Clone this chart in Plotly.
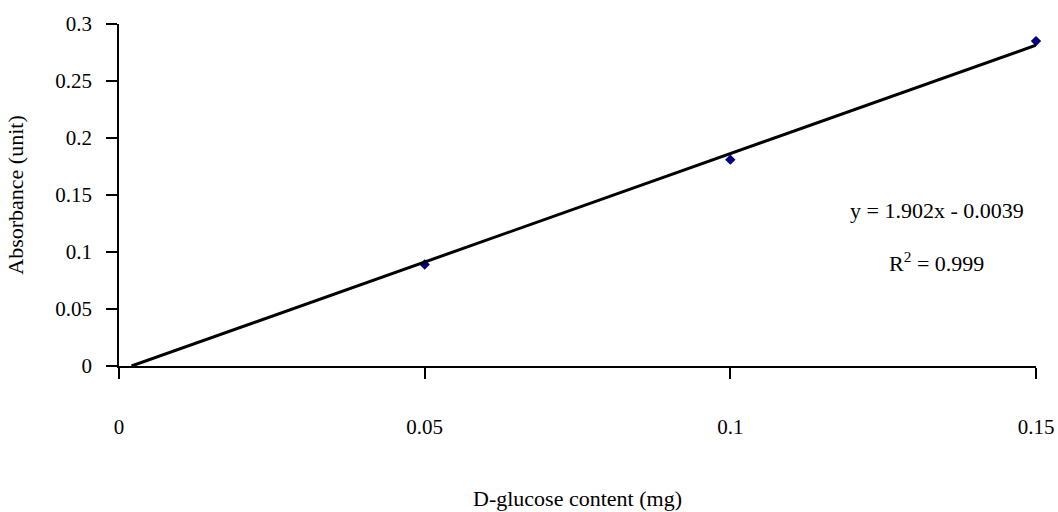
import plotly.graph_objects as go

# Data
glucose_mg = [0.05, 0.10, 0.15]
absorbance = [0.089, 0.181, 0.285]

# Linear trendline coefficients shown on the chart
slope = 1.902
intercept = -0.0039
r_squared = 0.999

x_ticks = [0, 0.05, 0.10, 0.15]
x_tick_labels = ["0", "0.05", "0.1", "0.15"]
y_ticks = [0, 0.05, 0.10, 0.15, 0.20, 0.25, 0.30]
y_tick_labels = ["0", "0.05", "0.1", "0.15", "0.2", "0.25", "0.3"]

# Trendline from its x-intercept to the last x value
trend_x = [-intercept / slope, max(glucose_mg)]
trend_y = [slope * x + intercept for x in trend_x]

FONT = "Liberation Serif"

fig = go.Figure()
fig.add_trace(go.Scatter(
    x=glucose_mg, y=absorbance, mode="markers",
    marker=dict(symbol="diamond", size=8, color="#000080"),
    showlegend=False, cliponaxis=False,
))
fig.add_trace(go.Scatter(
    x=trend_x, y=trend_y, mode="lines",
    line=dict(color="black", width=3),
    showlegend=False, cliponaxis=False,
))

fig.update_layout(
    width=1058, height=512,
    margin=dict(l=119, r=22, t=24, b=146),
    paper_bgcolor="white", plot_bgcolor="white",
    font=dict(family=FONT, size=21, color="black"),
    xaxis=dict(
        range=[0, 0.15], tickvals=x_ticks, ticktext=x_tick_labels,
        showline=True, linecolor="black", linewidth=1.5,
        ticks="outside", ticklen=11, tickwidth=1.5, tickcolor="black",
        showgrid=False, zeroline=False, automargin=False,
        ticklabelstandoff=30,
        tickfont=dict(family=FONT, size=21, color="black"),
        title=dict(text="D-glucose content (mg)", standoff=53,
                   font=dict(family=FONT, size=22, color="black")),
    ),
    yaxis=dict(
        range=[0, 0.3], tickvals=y_ticks, ticktext=y_tick_labels,
        showline=True, linecolor="black", linewidth=1.5,
        ticks="outside", ticklen=11, tickwidth=1.5, tickcolor="black",
        showgrid=False, zeroline=False, automargin=False,
        ticklabelstandoff=10,
        tickfont=dict(family=FONT, size=21, color="black"),
        title=dict(text="Absorbance (unit)", standoff=26,
                   font=dict(family=FONT, size=22, color="black")),
    ),
    annotations=[
        dict(text=f"y = {slope}x - {abs(intercept)}", xref="paper", yref="paper",
             x=0.892, y=0.456, showarrow=False, xanchor="center", yanchor="middle",
             font=dict(family=FONT, size=22, color="black")),
        dict(text=f"R<sup>2</sup> = {r_squared}", xref="paper", yref="paper",
             x=0.892, y=0.304, showarrow=False, xanchor="center", yanchor="middle",
             font=dict(family=FONT, size=22, color="black")),
    ],
)

fig.write_html("out.html")
